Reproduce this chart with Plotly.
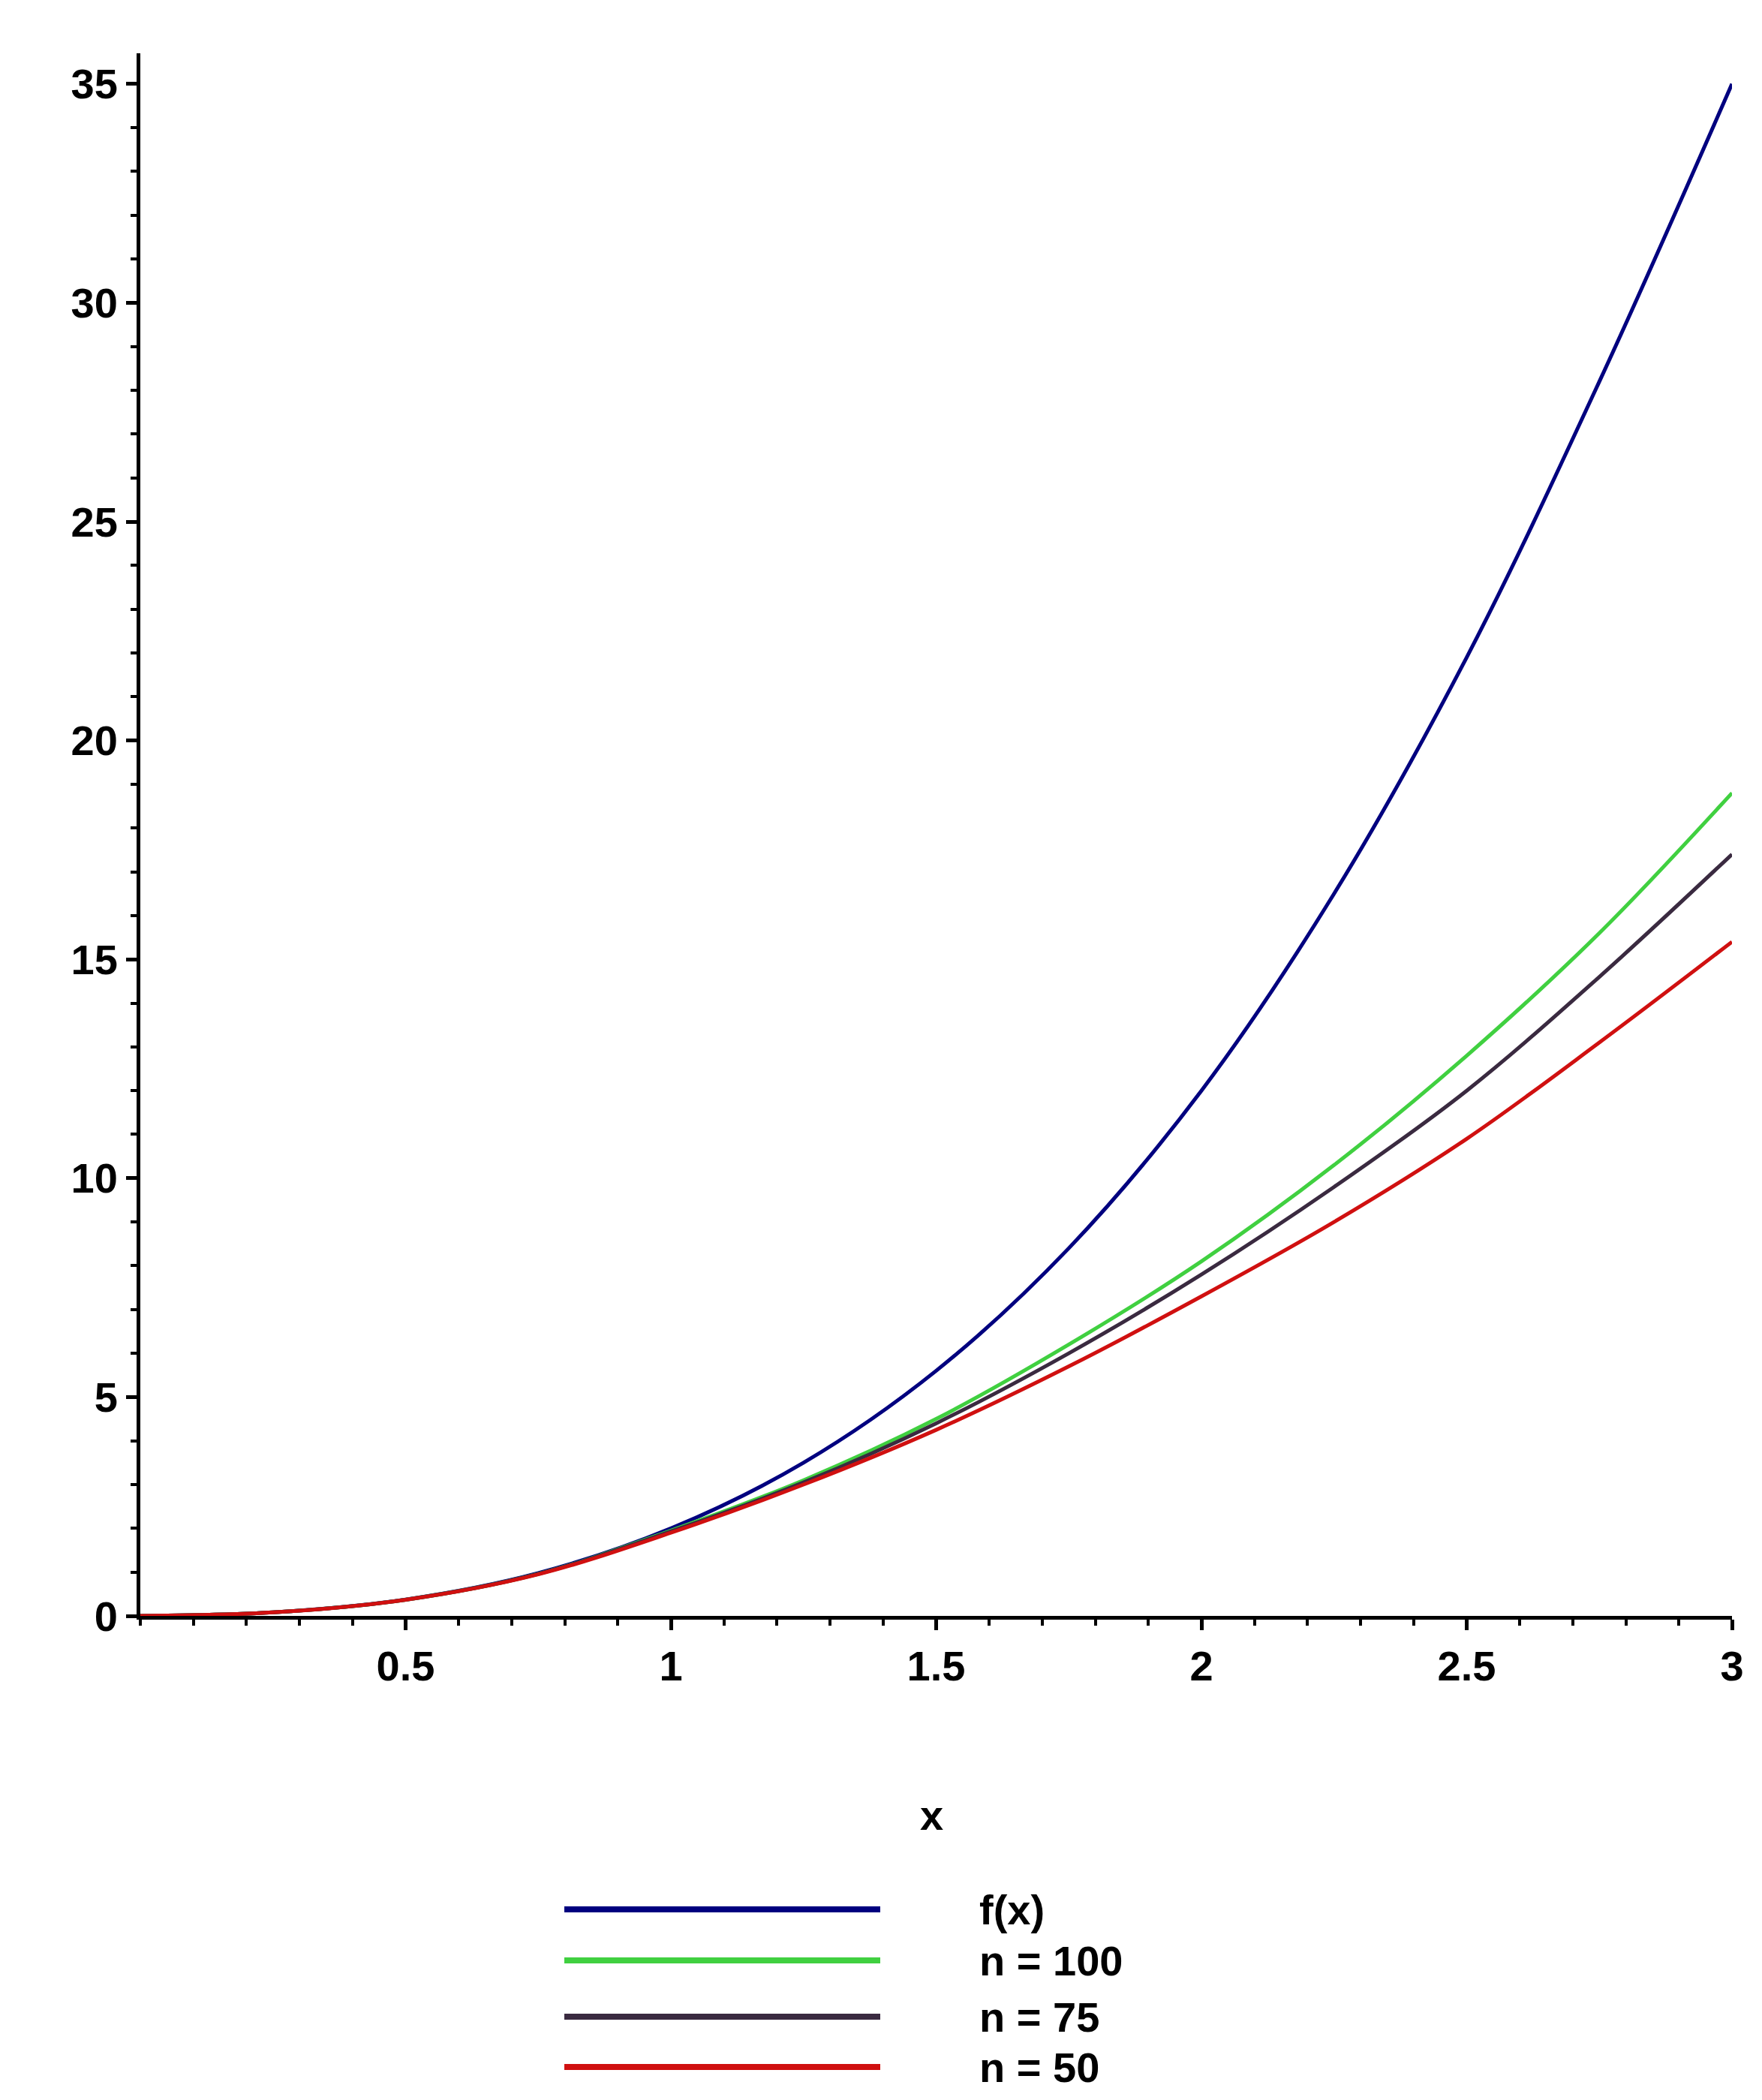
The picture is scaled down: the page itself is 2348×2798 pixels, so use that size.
import plotly.graph_objects as go

x = [0, 0.25, 0.5, 0.75, 1, 1.25, 1.5, 1.75, 2, 2.25, 2.5, 2.75, 3]
f_vals = [0, 0.08, 0.375, 0.98, 2.0, 3.5, 5.6, 8.4, 12.0, 16.5, 21.9, 28.2, 35.0]
n100 = [0, 0.08, 0.37, 0.96, 1.95, 3.1, 4.5, 6.2, 8.1, 10.3, 12.8, 15.6, 18.8]
n75 = [0, 0.08, 0.37, 0.96, 1.93, 3.05, 4.4, 6.0, 7.8, 9.8, 12.0, 14.6, 17.4]
n50 = [0, 0.08, 0.37, 0.95, 1.9, 3.0, 4.25, 5.7, 7.3, 9.0, 10.9, 13.1, 15.4]
names = ["f(x)", "n = 100", "n = 75", "n = 50"]
colors = ["#00007f", "#40d040", "#3a2a40", "#d01010"]
series = [f_vals, n100, n75, n50]

fig = go.Figure()
for s, c, nm in zip(series, colors, names):
    fig.add_trace(go.Scatter(x=x, y=s, mode="lines", name=nm,
                             line=dict(color=c, width=5, shape="spline"), showlegend=False))

font = dict(family="Liberation Sans, Arial", size=56, color="black")
fig.update_layout(
    width=2348, height=2798, paper_bgcolor="white", plot_bgcolor="white",
    margin=dict(l=179, r=48, t=63, b=653),
    xaxis=dict(range=[0, 3], tickvals=[0.5, 1, 1.5, 2, 2.5, 3], ticktext=["0.5", "1", "1.5", "2", "2.5", "3"],
               showgrid=False, zeroline=False, showline=True, linecolor="black", linewidth=5,
               ticks="outside", ticklen=14, tickwidth=5, tickcolor="black",
               minor=dict(dtick=0.1, ticks="outside", ticklen=8, tickwidth=4, tickcolor="black"),
               tickfont=dict(font, weight="bold")),
    yaxis=dict(range=[0, 35.7], tickvals=[0, 5, 10, 15, 20, 25, 30, 35],
               showgrid=False, zeroline=False, showline=True, linecolor="black", linewidth=5,
               ticks="outside", ticklen=14, tickwidth=5, tickcolor="black",
               minor=dict(dtick=1, ticks="outside", ticklen=8, tickwidth=4, tickcolor="black"),
               tickfont=dict(font, weight="bold")),
)

W, H = 2348, 2798
pw, ph = W - 179 - 48, H - 63 - 653
def px(xp): return (xp - 179) / pw
def py(yp): return (H - 653 - yp) / ph

fig.add_annotation(text="<b>x</b>", x=px(1233), y=py(2410), xref="paper", yref="paper",
                   showarrow=False, font=font, yanchor="middle")

rows = [2536, 2604, 2679, 2746]
for r, c, nm in zip(rows, colors, names):
    fig.add_shape(type="line", xref="paper", yref="paper", x0=px(744), x1=px(1165), y0=py(r), y1=py(r),
                  line=dict(color=c, width=8))
    fig.add_annotation(text="<b>" + nm + "</b>", xref="paper", yref="paper", x=px(1295), y=py(r),
                       xanchor="left", yanchor="middle", showarrow=False, font=font)

fig.write_html("out.html")
